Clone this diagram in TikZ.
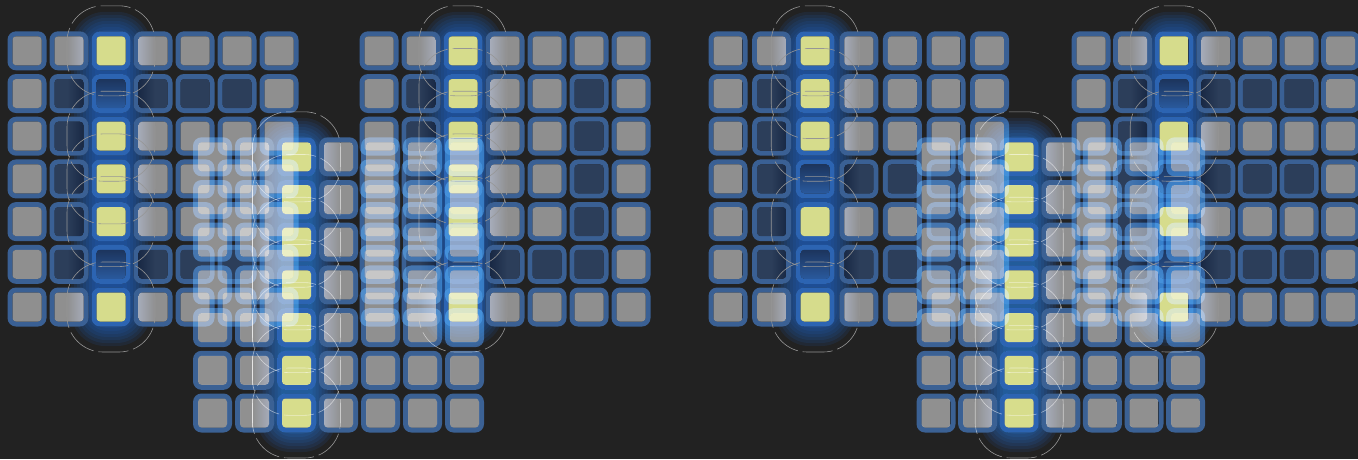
\documentclass[tikz,border=0pt]{standalone}
\definecolor{bg}{RGB}{34,34,34}
% normal palette
\definecolor{ngray}{RGB}{143,143,143}
\definecolor{nbord}{RGB}{58,96,148}
\definecolor{ndark}{RGB}{44,62,90}
\definecolor{nyel}{RGB}{214,220,140}
\definecolor{nhbord}{RGB}{44,100,178}
\definecolor{nhdtop}{RGB}{28,52,92}
\definecolor{nhdbot}{RGB}{42,90,158}
\definecolor{nglow}{RGB}{30,110,225}
\definecolor{nlight}{RGB}{166,172,186}
\definecolor{nndark}{RGB}{24,40,68}
\definecolor{ndash}{RGB}{150,150,150}
% palette for the screen-blended grids (compensated for the background)
\definecolor{sgray}{RGB}{126,126,126}
\definecolor{sbord}{RGB}{28,72,131}
\definecolor{sdark}{RGB}{12,32,65}
\definecolor{syel}{RGB}{208,215,122}
\definecolor{shbord}{RGB}{11,76,166}
\definecolor{shdtop}{RGB}{0,21,67}
\definecolor{shdbot}{RGB}{9,65,143}
\definecolor{sglow}{RGB}{0,88,220}
\definecolor{slight}{RGB}{152,159,175}
\definecolor{sndark}{RGB}{0,7,39}
\definecolor{sdash}{RGB}{134,134,134}
\tikzset{
  halo/.style={draw=Pdash, line width=0.6pt, dash pattern=on 30pt off 5pt,
    rounded corners=36pt},
  glowlayer/.style={fill=Pglow, opacity=0.1},
}
\makeatletter
\newcommand\setpal[1]{%
  \colorlet{Pgray}{#1gray}\colorlet{Pbord}{#1bord}\colorlet{Pdark}{#1dark}%
  \colorlet{Pyel}{#1yel}\colorlet{Phbord}{#1hbord}\colorlet{Phdtop}{#1hdtop}%
  \colorlet{Phdbot}{#1hdbot}\colorlet{Pglow}{#1glow}\colorlet{Plight}{#1light}%
  \colorlet{Pndark}{#1ndark}\colorlet{Pdash}{#1dash}}
% #1 name, #2 x of column 1, #3 column pitch, #4 y of row 1, #5 row pitch, #6 dark cells
\newcommand\drawgrid[6]{%
  \pgfmathsetmacro\cx{#2+2*(#3)}%
  \pgfmathsetmacro\xl{#2+(#3)}%
  \pgfmathsetmacro\xr{#2+3*(#3)}%
  \pgfmathsetmacro\ytop{#4-45}%
  \pgfmathsetmacro\ybot{#4+6*(#5)+45}%
  % glow of the highlighted column, with holes where the cells are
  \foreach \k in {0,...,8}{%
    \pgfmathsetmacro\w{40-3*\k}%
    \pgfmathsetmacro\rc{0.85*\w}%
    \begin{scope}
      \clip[rounded corners=\rc pt] (\cx-\w,\ytop+6+3*\k) rectangle (\cx+\w,\ybot-6-3*\k);
      \fill[glowlayer, even odd rule, rounded corners=8.5pt] (\cx-60,\ytop-5) rectangle (\cx+60,\ybot+5)
        \foreach \rr in {1,...,7}{
          ({\xl-19.5},{#4+(\rr-1)*(#5)-19.5}) rectangle ({\xl+19.5},{#4+(\rr-1)*(#5)+19.5})
          ({\cx-19.5},{#4+(\rr-1)*(#5)-19.5}) rectangle ({\cx+19.5},{#4+(\rr-1)*(#5)+19.5})
          ({\xr-19.5},{#4+(\rr-1)*(#5)-19.5}) rectangle ({\xr+19.5},{#4+(\rr-1)*(#5)+19.5})
        };
    \end{scope}
  }%
  % cells
  \foreach \rr in {1,...,7}{%
    \foreach \cc in {1,...,7}{%
      \pgfmathsetmacro\x{#2+(\cc-1)*(#3)}%
      \pgfmathsetmacro\y{#4+(\rr-1)*(#5)}%
      \edef\tmp{\noexpand\in@{,\rr-\cc,}{,#6,}}\tmp
      \ifin@\def\isdark{1}\else\def\isdark{0}\fi
      \ifnum\isdark=1 \def\bcol{Pdark}\def\mcol{Pndark}\else\def\bcol{Pgray}\def\mcol{Plight}\fi
      \ifnum\cc=3 \def\bordc{Phbord}\else\def\bordc{Pbord}\fi
      \coordinate (#1-\rr-\cc) at (\x,\y);
      \fill[\bordc, even odd rule, rounded corners=8.5pt]
        (\x-19.5,\y-19.5) rectangle (\x+19.5,\y+19.5)
        [rounded corners=3.5pt] (\x-14.5,\y-14.5) rectangle (\x+14.5,\y+14.5);
      \begin{scope}
        \clip[rounded corners=3.5pt] (\x-14.5,\y-14.5) rectangle (\x+14.5,\y+14.5);
        \ifnum\cc=3
          \ifnum\isdark=1
            \shade[top color=Phdtop, bottom color=Phdbot] (\x-15,\y-15) rectangle (\x+15,\y+15);
          \else
            \fill[Pyel] (\x-15,\y-15) rectangle (\x+15,\y+15);
          \fi
        \else
          \ifnum\cc=2
            \fill[\bcol] (\x-15,\y-15) rectangle (\cx-44,\y+15);
            \shade[left color=\bcol, right color=\mcol] (\cx-44,\y-15) rectangle (\x+15,\y+15);
          \else
            \ifnum\cc=4
              \shade[left color=\mcol, right color=\bcol] (\x-15,\y-15) rectangle (\cx+44,\y+15);
              \fill[\bcol] (\cx+44,\y-15) rectangle (\x+15,\y+15);
            \else
              \fill[\bcol] (\x-15,\y-15) rectangle (\x+15,\y+15);
            \fi
          \fi
        \fi
      \end{scope}
    }%
  }%
  % dashed outlines round the lit cells
  \foreach \rr in {1,...,7}{%
    \pgfmathsetmacro\y{#4+(\rr-1)*(#5)}%
    \edef\tmp{\noexpand\in@{,\rr-3,}{,#6,}}\tmp
    \ifin@\else
      \draw[halo] (\cx-44,\y-45) rectangle (\cx+44,\y+45);%
    \fi
  }%
}
\makeatother
\begin{document}
\begin{tikzpicture}[x=1pt,y=-1pt]
\fill[bg] (0,0) rectangle (1358,459);
\useasboundingbox (0,0) rectangle (1358,459);
\clip (0,0) rectangle (1358,459);
\setpal{n}
\drawgrid{A}{27}{42}{50.8}{42.7}{2-2,2-3,2-4,2-5,2-6,3-2,4-2,5-2,6-2,6-3,6-4,6-5,6-6}
\drawgrid{B}{379}{42}{50.8}{42.7}{2-2,3-2,4-2,5-2,6-2,2-6,3-6,4-6,5-6,6-6,6-3,6-4,6-5}
\begin{scope}[blend mode=screen]
\setpal{s}
\drawgrid{C}{212.5}{42}{156.8}{42.7}{}
\end{scope}
\drawgrid{D}{728}{43.6}{50.8}{42.7}{2-2,3-2,4-2,5-2,6-2,4-3,4-4,4-5,4-6,5-6,6-3,6-4,6-5,6-6}
\drawgrid{E}{1091}{41.6}{50.8}{42.7}{2-2,2-3,2-4,2-5,2-6,3-2,4-2,5-2,6-2,4-3,4-4,4-5,4-6,6-3,6-4,6-5,6-6}
\begin{scope}[blend mode=screen]
\setpal{s}
\drawgrid{F}{936}{41.6}{156.8}{42.7}{}
\end{scope}
\end{tikzpicture}
\end{document}
